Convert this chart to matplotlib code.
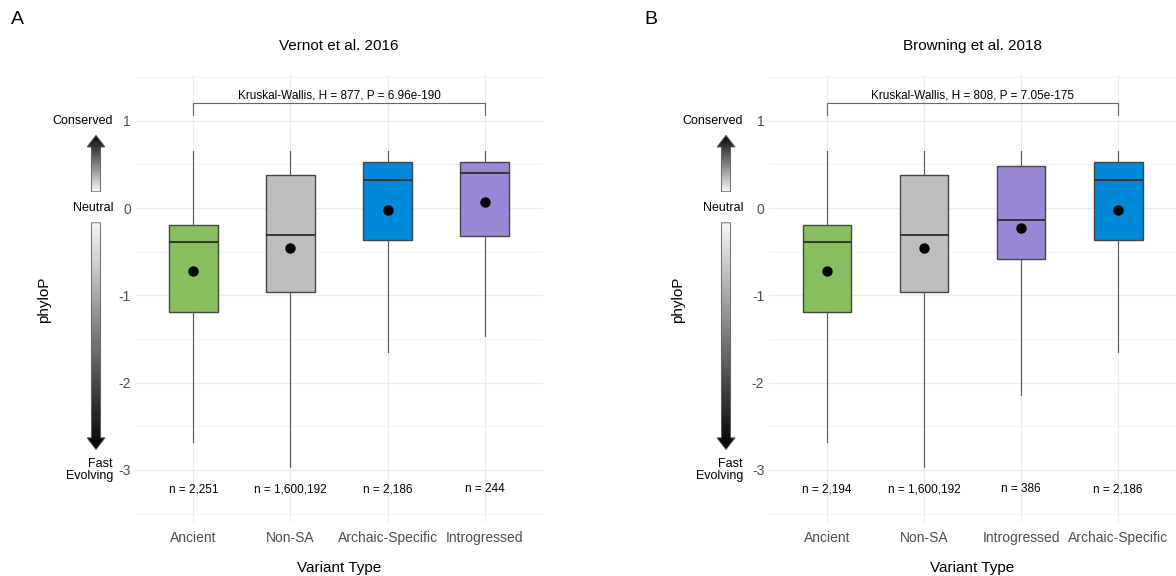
import matplotlib
matplotlib.use("Agg")
import matplotlib.pyplot as plt
import numpy as np
from matplotlib.patches import Polygon
from matplotlib.ticker import MultipleLocator

plt.rcParams['font.family'] = ['Liberation Sans', 'DejaVu Sans']

# ---------------- data ----------------
left_title = "Vernot et al. 2016"
left_cats = ["Ancient", "Non-SA", "Archaic-Specific", "Introgressed"]
left_n = ["2,251", "1,600,192", "2,186", "244"]
left_whishi = [0.65, 0.65, 0.65, 0.65]
left_q3 = [-0.195, 0.375, 0.527, 0.527]
left_med = [-0.39, -0.31, 0.317, 0.405]
left_mean = [-0.72, -0.455, -0.027, 0.065]
left_q1 = [-1.19, -0.966, -0.37, -0.317]
left_whislo = [-2.68, -2.97, -1.65, -1.47]
left_test = "Kruskal-Wallis, H = 877, P = 6.96e-190"

right_title = "Browning et al. 2018"
right_cats = ["Ancient", "Non-SA", "Introgressed", "Archaic-Specific"]
right_n = ["2,194", "1,600,192", "386", "2,186"]
right_whishi = [0.65, 0.65, 0.65, 0.65]
right_q3 = [-0.195, 0.375, 0.478, 0.527]
right_med = [-0.39, -0.31, -0.14, 0.317]
right_mean = [-0.72, -0.455, -0.23, -0.027]
right_q1 = [-1.19, -0.966, -0.58, -0.37]
right_whislo = [-2.68, -2.97, -2.14, -1.65]
right_test = "Kruskal-Wallis, H = 808, P = 7.05e-175"

colors = {"Ancient": "#88BF5E", "Non-SA": "#BEBEBE",
          "Archaic-Specific": "#0089D9", "Introgressed": "#9A88D6"}

yticks = [1, 0, -1, -2, -3]
ytick_labels = ["1", "0", "-1", "-2", "-3"]
ymin, ymax = -3.6, 1.52

# ---------------- figure ----------------
W, H = 1176, 576
fig = plt.figure(figsize=(W / 100, H / 100), dpi=100)

ax_top_px, ax_bot_px = 75.3, 522.3
ax_w_px = 408


def draw_arrow(cx_px, v_top, v_bot, up):
    def ypix(v):
        return ax_top_px + (ymax - v) / (ymax - ymin) * (ax_bot_px - ax_top_px)
    y0, y1 = ypix(v_top), ypix(v_bot)
    wpx = 19
    hpx = y1 - y0
    aax = fig.add_axes([(cx_px - wpx / 2) / W, 1 - y1 / H, wpx / W, hpx / H])
    aax.set_xlim(0, wpx)
    aax.set_ylim(0, hpx)
    aax.axis('off')
    head = 12
    sw = 4.6
    c = wpx / 2
    if up:
        pts = [(c - sw, 0.5), (c + sw, 0.5), (c + sw, hpx - head), (wpx - 0.5, hpx - head),
               (c, hpx - 0.3), (0.5, hpx - head), (c - sw, hpx - head)]
        grad = np.linspace(0.0, 0.97, 256).reshape(-1, 1)          # dark at top
    else:
        pts = [(c - sw, hpx - 0.5), (c + sw, hpx - 0.5), (c + sw, head), (wpx - 0.5, head),
               (c, 0.3), (0.5, head), (c - sw, head)]
        grad = np.linspace(0.97, 0.0, 256).reshape(-1, 1)          # light at top
    poly = Polygon(pts, closed=True, facecolor='none', edgecolor='#555555', lw=0.6, zorder=3)
    aax.add_patch(poly)
    im = aax.imshow(grad, cmap='gray', vmin=0, vmax=1, extent=[0, wpx, 0, hpx],
                    aspect='auto', origin='upper', zorder=2)
    im.set_clip_path(poly)


def panel(left_px, title, cats, n, whishi, q3, med, mean, q1, whislo, test,
          arrow_off, label_off, ylab_off, letter, letter_x):
    ax = fig.add_axes([left_px / W, 1 - ax_bot_px / H, ax_w_px / W,
                       (ax_bot_px - ax_top_px) / H])
    pos = np.arange(1, len(cats) + 1)
    stats = []
    for i in range(len(cats)):
        stats.append(dict(med=med[i], q1=q1[i], q3=q3[i], whislo=whislo[i],
                          whishi=whishi[i], mean=mean[i], fliers=[], label=cats[i]))
    bp = ax.bxp(stats, positions=pos, widths=0.5, patch_artist=True, showmeans=True,
                showcaps=False, showfliers=False,
                boxprops=dict(edgecolor='#444444', linewidth=1.0),
                medianprops=dict(color='#333333', linewidth=1.4),
                whiskerprops=dict(color='#555555', linewidth=0.8),
                meanprops=dict(marker='o', markerfacecolor='black', markeredgecolor='black',
                               markersize=6.5))
    for patch, cat in zip(bp['boxes'], cats):
        patch.set_facecolor(colors[cat])
    for art in bp['whiskers'] + bp['boxes'] + bp['medians'] + bp['means']:
        art.set_zorder(3)

    ax.set_xlim(0.4, len(cats) + 0.6)
    ax.set_ylim(ymin, ymax)
    ax.set_yticks(yticks)
    ax.set_yticklabels(ytick_labels)
    ax.yaxis.set_minor_locator(MultipleLocator(0.5))
    ax.set_xticks(pos)
    ax.set_xticklabels(cats)
    for s in ax.spines.values():
        s.set_visible(False)
    ax.tick_params(axis='both', which='both', length=0, colors='#4D4D4D', labelsize=10)
    ax.tick_params(axis='y', pad=3)
    ax.tick_params(axis='x', pad=6)
    ax.grid(True, which='major', color='#EBEBEB', lw=0.9, zorder=0)
    ax.grid(True, which='minor', axis='y', color='#F3F3F3', lw=0.7, zorder=0)
    ax.set_axisbelow(True)

    # bracket
    ax.plot([pos[0], pos[0], pos[-1], pos[-1]], [1.065, 1.2, 1.2, 1.065],
            color='#666666', lw=0.8, zorder=3)
    ax.text((pos[0] + pos[-1]) / 2, 1.25, test, ha='center', va='baseline', fontsize=8.5)

    # n labels
    for p, lab in zip(pos, n):
        ax.text(p, -3.255, "n = " + lab, ha='center', va='baseline', fontsize=8.5)

    ax.set_xlabel("Variant Type", fontsize=11, labelpad=12)
    ax.text(0.5, 1.0655, title, transform=ax.transAxes, ha='center', va='center', fontsize=11)

    def xfrac(off):
        return off / ax_w_px
    ax.text(xfrac(ylab_off), ((-1.05) - ymin) / (ymax - ymin),
            "phyloP", transform=ax.transAxes, rotation=90, ha='center', va='center', fontsize=11)
    tr = matplotlib.transforms.blended_transform_factory(ax.transAxes, ax.transData)
    ax.text(xfrac(label_off), 1, "Conserved", transform=tr, ha='right', va='center', fontsize=9)
    ax.text(xfrac(label_off), 0, "Neutral", transform=tr, ha='right', va='center', fontsize=9)
    ax.text(xfrac(label_off), -3, "Fast\nEvolving", transform=tr, ha='right', va='center',
            fontsize=9, linespacing=0.95, multialignment='right')

    draw_arrow(left_px + arrow_off, 0.836, 0.18, True)
    draw_arrow(left_px + arrow_off, -0.164, -2.77, False)

    fig.text(letter_x / W, 1 - 20 / H, letter, fontsize=14, ha='left', va='center')
    return ax


panel(135, left_title, left_cats, left_n, left_whishi, left_q3, left_med, left_mean,
      left_q1, left_whislo, left_test, arrow_off=-39, label_off=-22, ylab_off=-91,
      letter="A", letter_x=11)
panel(768.5, right_title, right_cats, right_n, right_whishi, right_q3, right_med, right_mean,
      right_q1, right_whislo, right_test, arrow_off=-42.5, label_off=-25.5, ylab_off=-90.5,
      letter="B", letter_x=644)

fig.savefig("out.png", dpi=100, facecolor='white')
